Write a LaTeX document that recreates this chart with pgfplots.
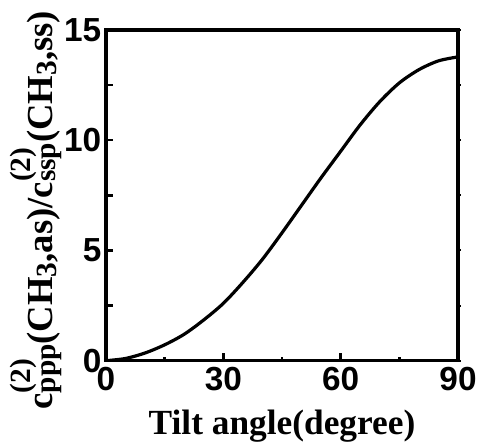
\documentclass[border=0pt]{standalone}
\usepackage{fontspec}
\setmainfont{Liberation Serif}
\setsansfont{Liberation Sans}
\usepackage{pgfplots}
\pgfplotsset{compat=1.18}
\newcommand{\lblfont}{\fontsize{27.5}{32}\selectfont\bfseries\rmfamily}
\newcommand{\subfont}{\fontsize{22}{25}\selectfont}
\newcommand{\chisub}[2]{c\rlap{\raisebox{0.6em}{\subfont #1}}\raisebox{-0.08em}{\subfont #2}}
\begin{document}
\begin{tikzpicture}
\begin{axis}[
  scale only axis,
  width=264pt, height=248pt,
  xmin=0, xmax=90, ymin=0, ymax=15,
  xtick={0,30,60,90}, minor xtick={15,45,75},
  ytick={0,5,10,15}, minor ytick={2.5,7.5,12.5},
  xtick pos=bottom, ytick pos=left,
  tick align=inside,
  major tick length=6pt, minor tick length=3pt,
  y tick style={/pgfplots/major tick length=5pt,/pgfplots/minor tick length=5pt},
  tick style={line width=1.9pt, black},
  axis line style={line width=2.4pt},
  ticklabel style={font=\fontsize{25}{30}\selectfont\sffamily\bfseries},
  /pgf/number format/assume math mode=true,
  xticklabel style={yshift=-1pt},
  xlabel={Tilt angle(degree)},
  xlabel style={font=\fontsize{26.5}{32}\selectfont\bfseries\rmfamily, at={(axis description cs:0.5,0)}, anchor=base, yshift=-55.5pt},
  ylabel={\chisub{(2)}{ppp}(CH\raisebox{-0.13em}{\subfont 3},as)/\chisub{(2)}{ssp}(CH\raisebox{-0.13em}{\subfont 3},ss)},
  ylabel style={font=\lblfont, at={(axis description cs:-0.153,0.455)}, anchor=base},
]
\addplot[line width=2.4pt, black, smooth] coordinates {
(0,0) (5,0.1) (10,0.35) (15,0.72) (20,1.2) (25,1.85) (30,2.6) (35,3.55) (40,4.6) (45,5.8) (50,7.05) (55,8.3) (60,9.5) (65,10.7) (70,11.75) (75,12.6) (80,13.2) (85,13.6) (90,13.78)
};
\end{axis}
\begin{axis}[
  scale only axis,
  width=264pt, height=248pt,
  xmin=0, xmax=90, ymin=0, ymax=15,
  axis x line=none, axis y line*=right,
  ytick={0,2.5,...,15}, yticklabels={},
  tick align=outside, major tick length=2pt,
  tick style={line width=1.5pt, black},
  axis line style={draw=none},
]
\addplot[draw=none] coordinates {(0,0)};
\end{axis}
\pgfresetboundingbox
\path[use as bounding box] ([shift={(-79.5pt,-61.5pt)}]current axis.south west) rectangle ([shift={(16.5pt,22.5pt)}]current axis.north east);
\end{tikzpicture}
\end{document}
